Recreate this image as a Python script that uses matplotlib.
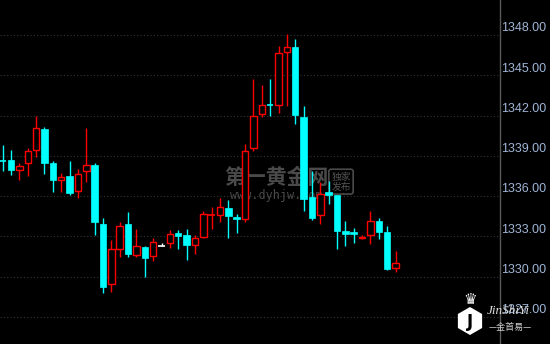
import matplotlib
matplotlib.use("Agg")
import matplotlib.pyplot as plt
from matplotlib.patches import RegularPolygon

# gold price candles
opens = [1338.60, 1338.69, 1337.93, 1338.45, 1339.41, 1341.00, 1338.47, 1337.23,
         1337.50, 1336.36, 1337.85, 1338.30, 1333.90, 1329.44, 1332.04, 1333.90,
         1331.60, 1332.21, 1331.52, 1332.27, 1332.49, 1333.26, 1333.11, 1332.38,
         1332.94, 1334.58, 1334.57, 1335.12, 1334.45, 1334.28, 1339.56, 1342.09,
         1342.79, 1342.77, 1346.71, 1347.09, 1341.89, 1335.91, 1334.58, 1336.29,
         1336.06, 1333.38, 1333.33, 1332.85, 1333.09, 1334.13, 1333.31, 1330.63]
closes = [1338.57, 1337.95, 1338.22, 1339.34, 1341.05, 1338.49, 1337.23, 1337.40,
          1336.26, 1337.65, 1338.30, 1334.10, 1329.26, 1332.04, 1333.76, 1331.72,
          1332.27, 1331.42, 1332.56, 1332.27, 1333.16, 1333.06, 1332.36, 1332.88,
          1334.67, 1334.62, 1335.17, 1334.52, 1334.32, 1339.40, 1341.99, 1342.77,
          1342.76, 1346.64, 1347.09, 1342.01, 1335.77, 1334.41, 1336.14, 1336.06,
          1333.43, 1333.20, 1333.20, 1332.96, 1334.13, 1333.35, 1330.58, 1331.00]
highs = [1339.81, 1339.44, 1338.45, 1339.61, 1341.97, 1341.13, 1338.62, 1337.75,
         1338.62, 1338.02, 1341.08, 1338.47, 1334.37, 1332.74, 1334.05, 1334.82,
         1333.55, 1332.29, 1332.91, 1332.51, 1333.48, 1333.48, 1333.55, 1333.09,
         1334.87, 1335.19, 1335.86, 1335.71, 1334.67, 1339.88, 1344.72, 1344.25,
         1344.72, 1347.20, 1348.05, 1347.69, 1342.69, 1337.87, 1337.03, 1337.13,
         1336.09, 1334.15, 1333.63, 1333.11, 1334.89, 1334.37, 1333.78, 1331.92]
lows = [1337.87, 1337.60, 1337.20, 1337.52, 1338.94, 1337.65, 1336.33, 1336.33,
        1336.12, 1335.88, 1337.08, 1333.13, 1328.81, 1328.89, 1331.49, 1331.49,
        1331.49, 1330.00, 1331.19, 1332.27, 1332.16, 1332.09, 1331.25, 1331.69,
        1332.91, 1333.55, 1334.10, 1332.92, 1333.28, 1334.04, 1339.36, 1341.86,
        1341.97, 1342.22, 1342.68, 1341.35, 1334.93, 1334.20, 1333.90, 1335.44,
        1332.09, 1332.31, 1332.53, 1332.83, 1332.46, 1332.83, 1330.50, 1330.38]
price_ticks = [1327, 1330, 1333, 1336, 1339, 1342, 1345, 1348]

up_col = '#ff0000'
down_col = '#00ffff'
flat_col = '#ffffff'
bg = '#000000'

fig = plt.figure(figsize=(5.5, 3.44), dpi=100, facecolor=bg)
ax = fig.add_axes([0, 0, 500 / 550, 1])
ax.set_facecolor(bg)

ax.set_xlim(-0.323, 59.5)
ax.set_ylim(1324.99, 1350.61)

# dotted grid lines
for p in price_ticks:
    ax.axhline(p, color='#363636', lw=0.8, ls=(0, (1, 2)), zorder=0)

# watermark behind the candles
ax.text(0.552, 0.483, '第一黄金网', transform=ax.transAxes, ha='center', va='center',
        fontsize=15, fontweight='bold', color='#4a4a4a', family=['Noto Sans CJK SC'], zorder=1)
ax.text(0.552, 0.432, 'www.dyhjw.com', transform=ax.transAxes, ha='center', va='center',
        fontsize=8.5, color='#4a4a4a', family='DejaVu Sans Mono', zorder=1)
ax.text(0.682, 0.472, '独家\n发布', transform=ax.transAxes, ha='center', va='center',
        fontsize=7, color='#555555', family=['Noto Sans CJK SC'], linespacing=1.0, zorder=1,
        bbox=dict(boxstyle='round,pad=0.25', fc='none', ec='#4a4a4a', lw=1.2))

width = 0.78
for i in range(len(opens)):
    o, c, h, l = opens[i], closes[i], highs[i], lows[i]
    if c > o:
        col = up_col
    elif c < o:
        col = down_col
    else:
        col = flat_col
    ax.vlines(i, l, h, color=col, lw=1.0, zorder=2)
    if abs(c - o) < 0.08:
        ax.hlines((o + c) / 2, i - width / 2, i + width / 2, color=col, lw=1.2, zorder=3)
    elif c > o:
        ax.bar(i, c - o, bottom=o, width=width, facecolor=bg, edgecolor=col, lw=1.0, zorder=3)
    else:
        ax.bar(i, c - o, bottom=o, width=width, facecolor=col, edgecolor=col, lw=0.5, zorder=3)

# right price axis
for s in ['top', 'left', 'bottom']:
    ax.spines[s].set_visible(False)
ax.spines['right'].set_color('#5a5a5a')
ax.spines['right'].set_linewidth(1)
ax.set_xticks([])
ax.set_yticks([])
for p in price_ticks:
    ax.text(1.003, p + 0.05, '%.2f' % p, transform=ax.get_yaxis_transform(), ha='left',
            va='bottom', fontsize=9, color='#9fb6d6', family='Liberation Sans', clip_on=False)

# logo bottom right (positions in inches from bottom-left)
fig.add_artist(RegularPolygon((4.70, 3.44 - 3.21), 6, radius=0.14,
                              transform=fig.dpi_scale_trans, fc='white', ec='none'))
fig.text(470 / 550, 1 - 322 / 344, 'J', ha='center', va='center', fontsize=12,
         fontweight='bold', color='black', family='DejaVu Sans')
fig.text(470 / 550, 1 - 300 / 344, '♛', ha='center', va='center', fontsize=11,
         color='white', family='DejaVu Sans')
fig.text(508 / 550, 1 - 311 / 344, 'JinShiYi', ha='center', va='center', fontsize=9.5,
         style='italic', color='#dddddd', family='Liberation Serif')
fig.text(510 / 550, 1 - 327 / 344, '—金首易—', ha='center', va='center', fontsize=6.5,
         color='#cccccc', family=['Noto Sans CJK SC'])

fig.savefig('out.png', dpi=100, facecolor=bg)
